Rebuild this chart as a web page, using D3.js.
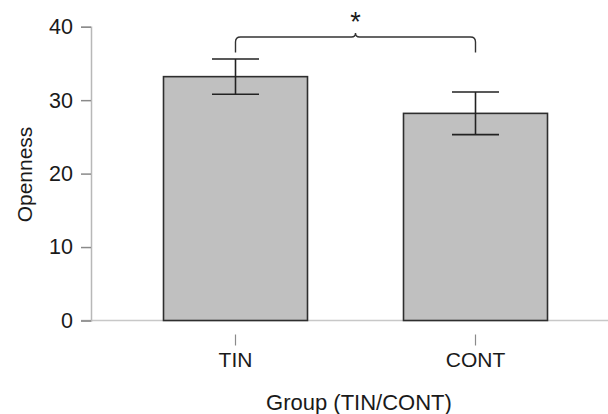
<!DOCTYPE html>
<html>
<head>
<meta charset="utf-8">
<script src="https://cdn.jsdelivr.net/npm/d3@7"></script>
<style>
  html, body { margin: 0; padding: 0; background: #fff; }
  svg { display: block; font-family: "Liberation Sans", Arial, Helvetica, sans-serif; }
</style>
</head>
<body>
<svg id="chart" width="608" height="414"></svg>
<script>
// Group means and standard errors for openness scores
const groups = ["TIN", "CONT"];
const means = [33.2, 28.2];
const errors = [2.4, 2.9];
const yTicks = [0, 10, 20, 30, 40];

// Significance bracket between the two groups
const bracketLevel = 38.6;
const bracketFoot = 36.5;
const bracketLabel = "*";

const svg = d3.select("#chart");

const x = d3.scaleBand()
  .domain(groups)
  .range([115.5, 595.5])
  .paddingInner(0.4)
  .paddingOuter(0.2);

const y = d3.scaleLinear()
  .domain([0, 40])
  .range([320.5, 26.7]);

const cx = g => x(g) + x.bandwidth() / 2;

// baseline across the plot
svg.append("line")
  .attr("x1", 81).attr("x2", 608)
  .attr("y1", y(0)).attr("y2", y(0))
  .attr("stroke", "#c8c8c8").attr("stroke-width", 1.5);

// y axis
const yAxis = svg.append("g")
  .attr("transform", "translate(91,0)")
  .call(d3.axisLeft(y).tickValues(yTicks).tickSize(10).tickPadding(8));
yAxis.select(".domain").attr("stroke", "#b8b8b8").attr("stroke-width", 1.5);
yAxis.selectAll(".tick line").attr("stroke", "#8a8a8a").attr("stroke-width", 1.5);
yAxis.selectAll(".tick text")
  .attr("font-size", 21.5).attr("fill", "#1a1a1a")
  .attr("font-family", "Liberation Sans, Arial, sans-serif");

// x axis ticks and labels, set below the baseline
const xAxis = svg.append("g")
  .attr("transform", "translate(0,334.5)")
  .call(d3.axisBottom(x).tickSize(11).tickPadding(7));
xAxis.select(".domain").remove();
xAxis.selectAll(".tick line").attr("stroke", "#8a8a8a").attr("stroke-width", 1.2);
xAxis.selectAll(".tick text")
  .attr("font-size", 21).attr("fill", "#1a1a1a")
  .attr("font-family", "Liberation Sans, Arial, sans-serif");

// bars
svg.append("g").selectAll("rect")
  .data(groups)
  .join("rect")
  .attr("x", d => x(d))
  .attr("width", x.bandwidth())
  .attr("y", (d, i) => y(means[i]))
  .attr("height", (d, i) => y(0) - y(means[i]))
  .attr("fill", "#c0c0c0")
  .attr("stroke", "#2e2e2e")
  .attr("stroke-width", 1.6);

// error bars
const capHalf = 23.5;
const eb = svg.append("g").attr("stroke", "#222").attr("stroke-width", 1.6);
groups.forEach((g, i) => {
  const c = cx(g);
  const hi = y(means[i] + errors[i]);
  const lo = y(means[i] - errors[i]);
  eb.append("line").attr("x1", c).attr("x2", c).attr("y1", hi).attr("y2", lo);
  eb.append("line").attr("x1", c - capHalf).attr("x2", c + capHalf).attr("y1", hi).attr("y2", hi);
  eb.append("line").attr("x1", c - capHalf).attr("x2", c + capHalf).attr("y1", lo).attr("y2", lo);
});

// curly bracket marking the significant difference
const xa = cx(groups[0]), xb = cx(groups[1]);
const yl = y(bracketLevel), yf = y(bracketFoot);
const xm = (xa + xb) / 2;
const r = 5;
const bracePath = d3.path();
bracePath.moveTo(xa, yf);
bracePath.lineTo(xa, yl + r);
bracePath.quadraticCurveTo(xa, yl, xa + r, yl);
bracePath.lineTo(xm - 4, yl);
bracePath.quadraticCurveTo(xm, yl, xm, yl - 4);
bracePath.quadraticCurveTo(xm, yl, xm + 4, yl);
bracePath.lineTo(xb - r, yl);
bracePath.quadraticCurveTo(xb, yl, xb, yl + r);
bracePath.lineTo(xb, yf);
svg.append("path")
  .attr("d", bracePath.toString())
  .attr("fill", "none")
  .attr("stroke", "#333")
  .attr("stroke-width", 1.4);

svg.append("text")
  .attr("x", xm).attr("y", 31)
  .attr("text-anchor", "middle")
  .attr("font-size", 27)
  .attr("fill", "#1a1a1a")
  .text(bracketLabel);

// axis titles
svg.append("text")
  .attr("transform", "translate(32,174.5) rotate(-90)")
  .attr("text-anchor", "middle")
  .attr("font-size", 21)
  .attr("fill", "#1a1a1a")
  .text("Openness");

svg.append("text")
  .attr("x", 359).attr("y", 410)
  .attr("text-anchor", "middle")
  .attr("font-size", 22)
  .attr("fill", "#1a1a1a")
  .text("Group (TIN/CONT)");
</script>
</body>
</html>
